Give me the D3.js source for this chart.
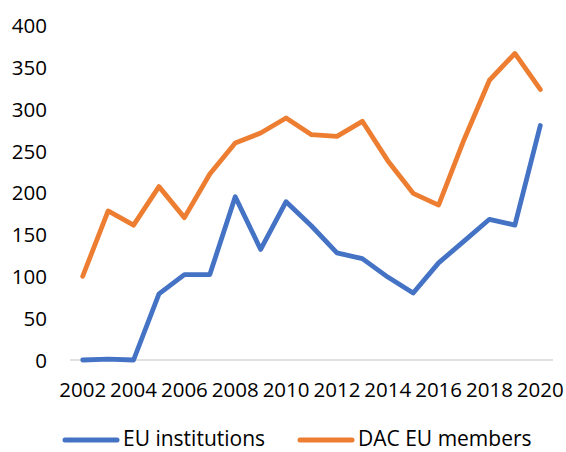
<!DOCTYPE html>
<html>
<head>
<meta charset="utf-8">
<script src="https://cdn.jsdelivr.net/npm/d3@7"></script>
<style>
  html, body { margin: 0; padding: 0; background: #fff; }
  svg { display: block; }
  text { font-family: "Open Sans", "Noto Sans", sans-serif; fill: #000; }
</style>
</head>
<body>
<svg id="chart" width="566" height="452"></svg>
<script>
// Years on the category axis
const years = [2002, 2003, 2004, 2005, 2006, 2007, 2008, 2009, 2010, 2011,
               2012, 2013, 2014, 2015, 2016, 2017, 2018, 2019, 2020];
// Only every other year carries a label
const yearLabels = [2002, 2004, 2006, 2008, 2010, 2012, 2014, 2016, 2018, 2020];
const yTicks = [0, 50, 100, 150, 200, 250, 300, 350, 400];

const seriesNames = ["EU institutions", "DAC EU members"];
const euInstitutions = [0, 1, 0, 79, 102, 102, 195, 132, 189, 160,
                        128, 121, 99, 80, 116, 142, 168, 161, 280];
const dacEuMembers = [100, 178, 161, 207, 170, 222, 259, 271, 289, 269,
                      267, 285, 238, 199, 185, 263, 334, 366, 323];
const colors = ["#4472C4", "#ED7D31"];

const svg = d3.select("#chart");

const x = d3.scaleBand().domain(years).range([70, 553]).padding(0);
const cx = d => x(d) + x.bandwidth() / 2;
const y = d3.scaleLinear().domain([0, 400]).range([360, 25]);

// Value axis labels (no gridlines)
const yAxis = d3.axisLeft(y).tickValues(yTicks).tickSize(0).tickPadding(0);
const gy = svg.append("g").attr("transform", "translate(47,0)").call(yAxis);
gy.select(".domain").remove();
gy.selectAll("text")
  .attr("font-size", 20.5)
  .attr("font-family", "'Open Sans', sans-serif")
  .attr("fill", "#000")
  .attr("dy", "0.36em");

// Category axis baseline
svg.append("line")
  .attr("x1", 70).attr("x2", 553)
  .attr("y1", y(0)).attr("y2", y(0))
  .attr("stroke", "#D9D9D9").attr("stroke-width", 1.3);

// Category labels
const xAxis = d3.axisBottom(x).tickValues(yearLabels).tickSize(0).tickPadding(0);
const gx = svg.append("g").attr("transform", `translate(0,${y(0)})`).call(xAxis);
gx.select(".domain").remove();
gx.selectAll("text")
  .attr("font-size", 20.5)
  .attr("font-family", "'Open Sans', sans-serif")
  .attr("fill", "#000")
  .attr("y", 37)
  .attr("dy", 0);

// Series lines
const line = d3.line().x((d, i) => cx(years[i])).y(d => y(d));
[euInstitutions, dacEuMembers].forEach((vals, k) => {
  svg.append("path")
    .datum(vals)
    .attr("d", line)
    .attr("fill", "none")
    .attr("stroke", colors[k])
    .attr("stroke-width", 4.8)
    .attr("stroke-linejoin", "round")
    .attr("stroke-linecap", "round");
});

// Legend
const legendX = [63, 298];
const legend = svg.append("g");
seriesNames.forEach((name, k) => {
  legend.append("line")
    .attr("x1", legendX[k] + 2).attr("x2", legendX[k] + 54)
    .attr("y1", 440).attr("y2", 440)
    .attr("stroke", colors[k]).attr("stroke-width", 5)
    .attr("stroke-linecap", "round");
  legend.append("text")
    .attr("x", legendX[k] + 60).attr("y", 446)
    .attr("font-size", 21)
    .text(name);
});
</script>
</body>
</html>
